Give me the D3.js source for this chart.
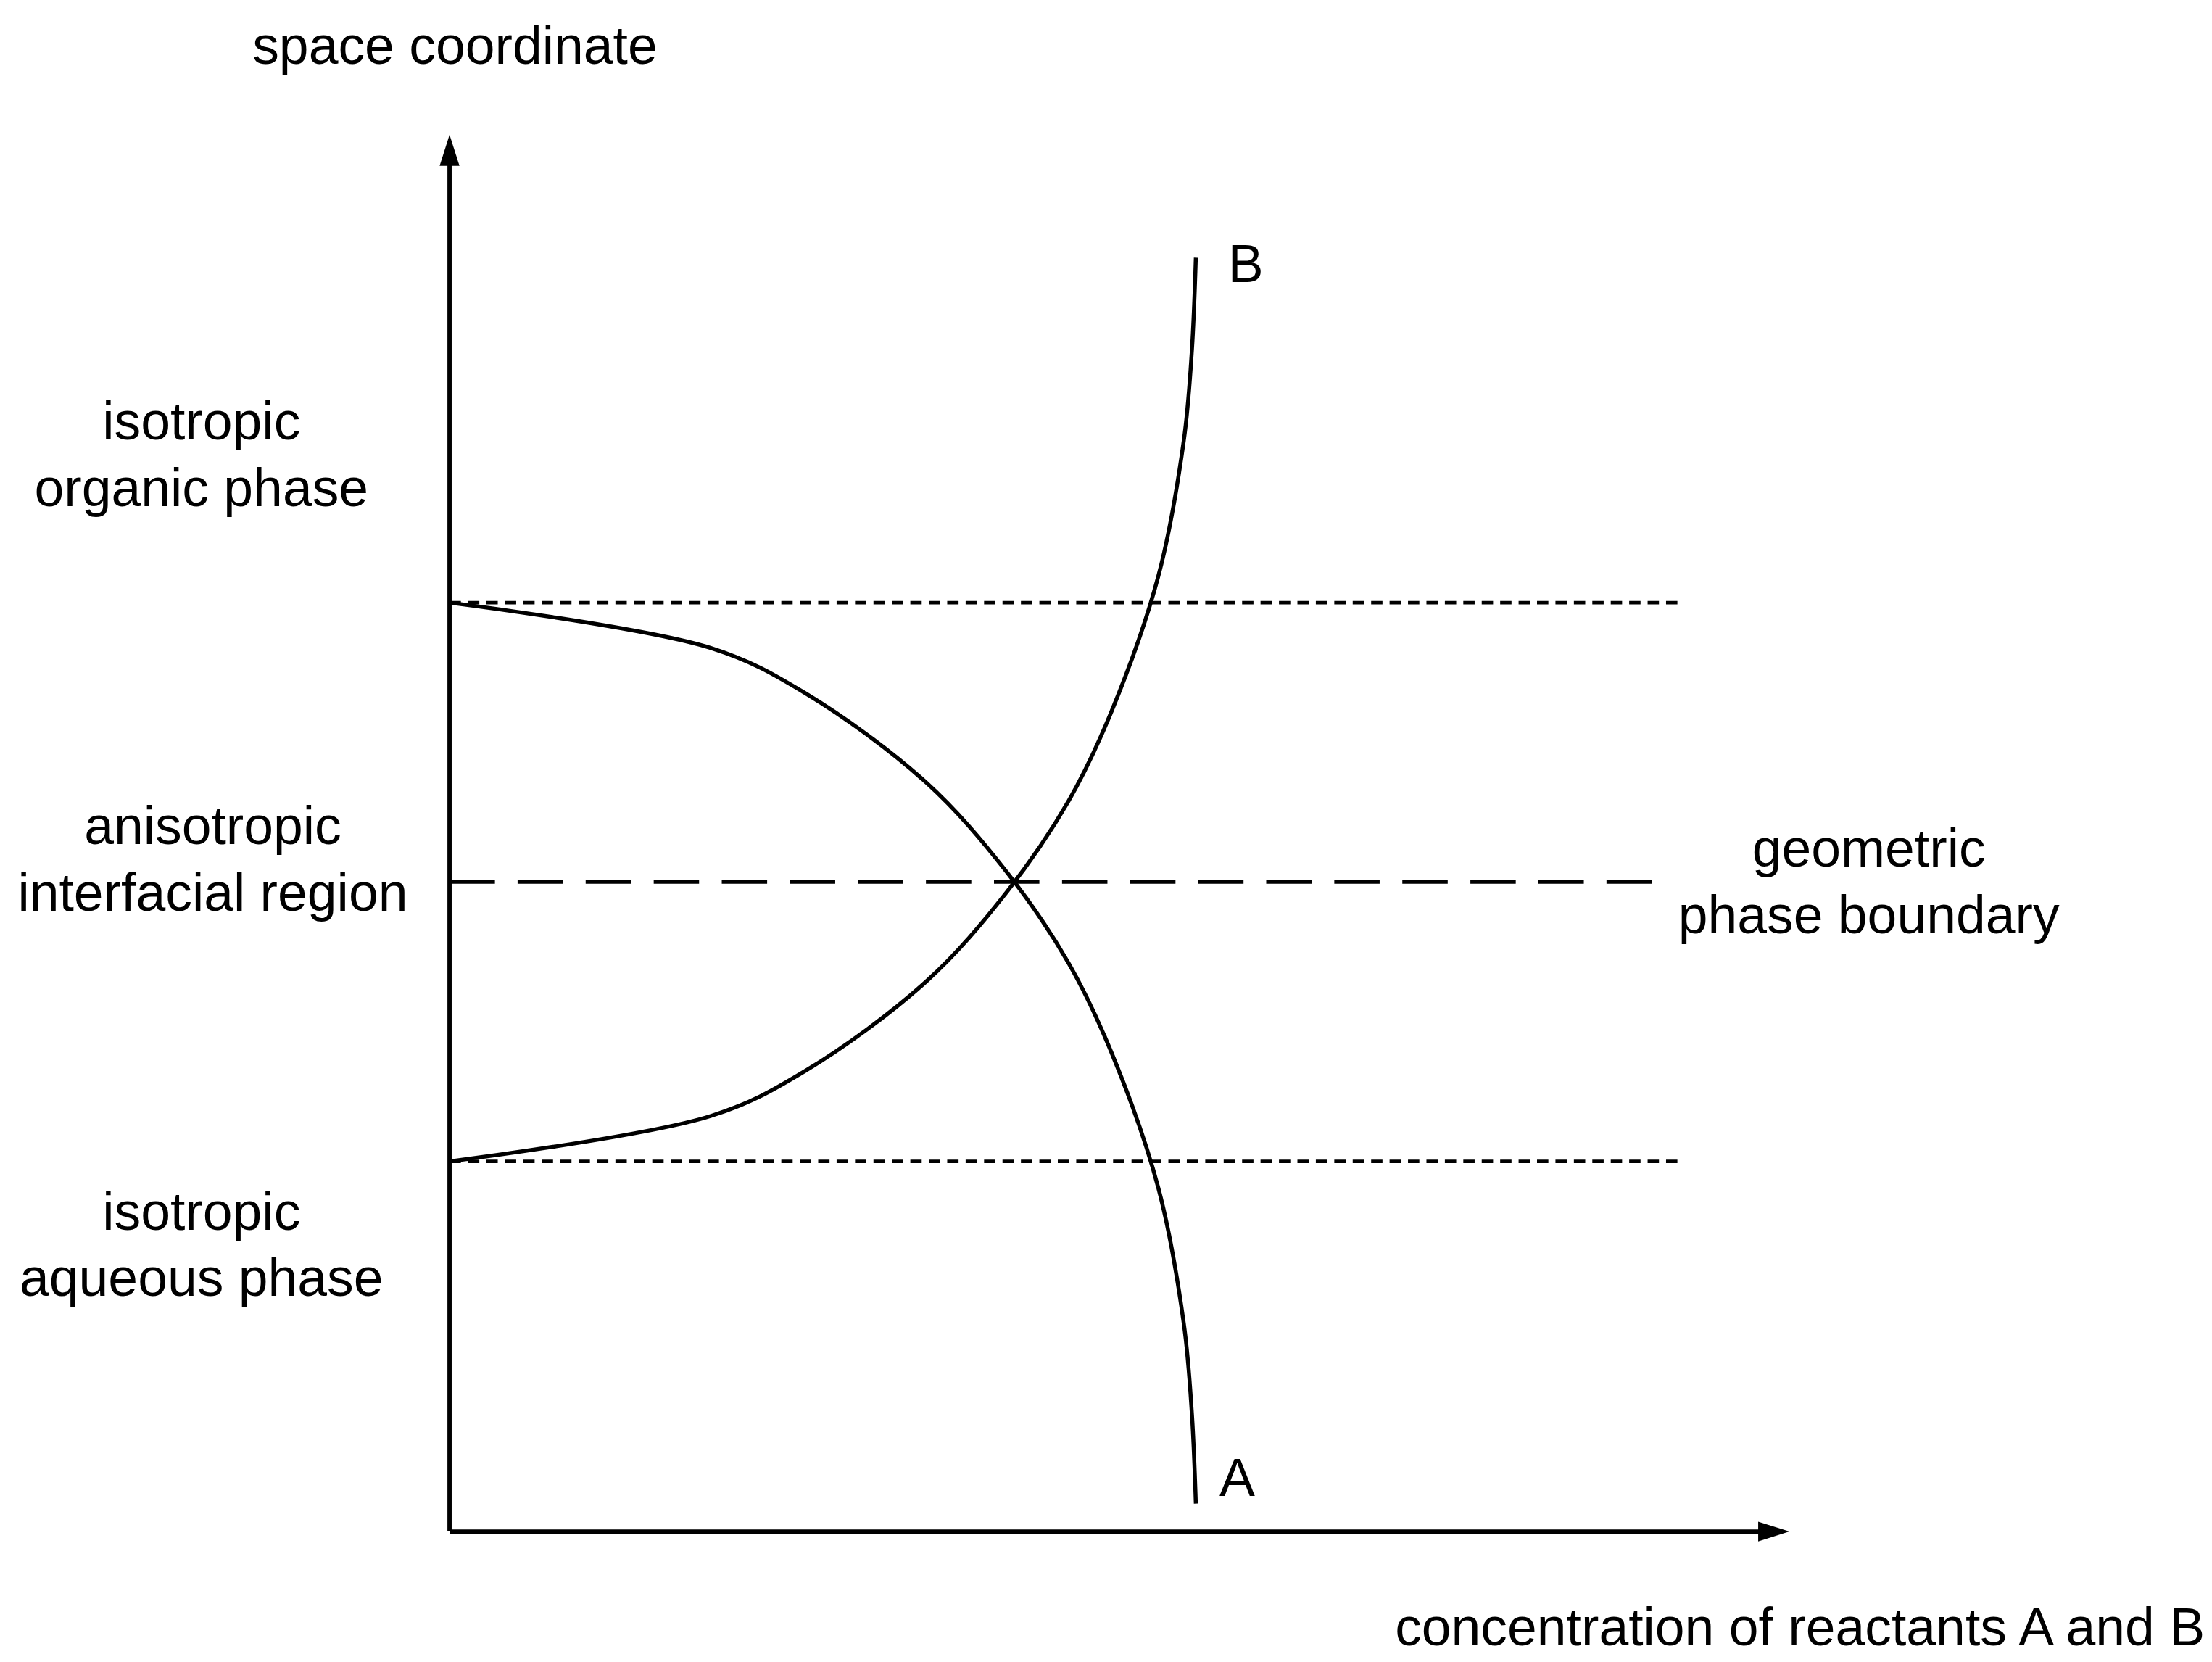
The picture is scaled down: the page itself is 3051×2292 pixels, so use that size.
<!DOCTYPE html>
<html>
<head>
<script src="https://cdn.jsdelivr.net/npm/d3@7"></script>
<style>
  body { margin: 0; background: #fff; }
  text { font-family: "Liberation Sans", Arial, sans-serif; font-size: 37.5px; fill: #000; }
</style>
</head>
<body>
<svg id="chart"></svg>
<script>
// curve points, in axis units (0..100 both ways)
var curveA = [[0,66.5],[19.5,63.25],[26.5,60.05],[35.6,53.6],[41.6,47.2],[46.2,40.7],[49.4,34.3],[52.9,24.6],[54.8,14.9],[55.4,8.5],[55.7,2.0]];
var curveB = [[0,26.5],[19.5,29.75],[26.5,32.95],[35.6,39.4],[41.6,45.8],[46.2,52.3],[49.4,58.7],[52.9,68.4],[54.8,78.1],[55.4,84.5],[55.7,91.2]];
var boundaryLines = [{y: 66.5, kind: "short"}, {y: 26.5, kind: "short"}, {y: 46.5, kind: "long"}];
var phaseLabels = [
  {lines: ["isotropic", "organic phase"], x: 142, y: 310},
  {lines: ["anisotropic", "interfacial region"], x: 150, y: 595},
  {lines: ["isotropic", "aqueous phase"], x: 142, y: 867},
  {lines: ["geometric", "phase boundary"], x: 1318, y: 611}
];

var W = 1560, H = 1172;
var svg = d3.select("#chart")
  .attr("width", 3051).attr("height", 2292)
  .attr("viewBox", "0 0 " + W + " " + H);

var x = d3.scaleLinear().domain([0, 100]).range([317, 1262]);
var y = d3.scaleLinear().domain([0, 100]).range([1080, 95]);

// dashed lines
boundaryLines.forEach(function(d) {
  svg.append("line")
    .attr("x1", x(0)).attr("x2", d.kind == "long" ? 1175 : 1187)
    .attr("y1", y(d.y)).attr("y2", y(d.y))
    .attr("stroke", "#000").attr("stroke-width", 2.4)
    .attr("stroke-dasharray", d.kind == "long" ? "32,16" : "8,5");
});

// axes with arrows
svg.append("line").attr("x1", x(0)).attr("y1", y(0)).attr("x2", x(0)).attr("y2", y(100) + 10)
  .attr("stroke", "#000").attr("stroke-width", 3);
svg.append("line").attr("x1", x(0)).attr("y1", y(0)).attr("x2", x(100) - 10).attr("y2", y(0))
  .attr("stroke", "#000").attr("stroke-width", 3);
svg.append("path")
  .attr("d", "M" + x(0) + "," + y(100) + " l-7,22 l14,0 z").attr("fill", "#000");
svg.append("path")
  .attr("d", "M" + x(100) + "," + y(0) + " l-22,-7 l0,14 z").attr("fill", "#000");

// curves
var line = d3.line().x(function(d) { return x(d[0]); }).y(function(d) { return y(d[1]); })
  .curve(d3.curveCatmullRom.alpha(0.5));
[curveA, curveB].forEach(function(c) {
  svg.append("path").attr("d", line(c))
    .attr("fill", "none").attr("stroke", "#000").attr("stroke-width", 2.8);
});

// labels
svg.append("text").text("B").attr("x", 866).attr("y", 199);
svg.append("text").text("A").attr("x", 860).attr("y", 1055);
svg.append("text").text("space coordinate").attr("x", 178).attr("y", 45);
svg.append("text").text("concentration of reactants A and B")
  .attr("x", 1555).attr("y", 1160).attr("text-anchor", "end");

phaseLabels.forEach(function(d) {
  d.lines.forEach(function(t, i) {
    svg.append("text").text(t).attr("x", d.x).attr("y", d.y + i * 47)
      .attr("text-anchor", "middle");
  });
});
</script>
</body>
</html>
